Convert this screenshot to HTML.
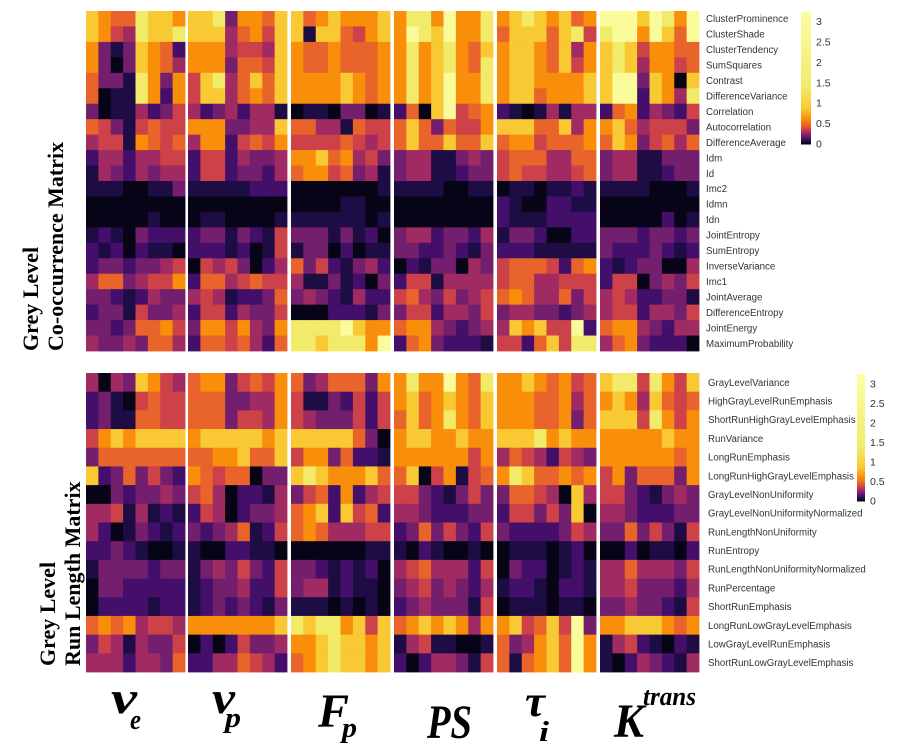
<!DOCTYPE html>
<html><head><meta charset="utf-8"><style>
html,body{margin:0;padding:0;background:#fff;}
svg{display:block;}
</style></head><body>
<svg id="chart" width="906" height="744" viewBox="0 0 906 744" xmlns="http://www.w3.org/2000/svg">
<g id="glcm"></g>
<g id="glrlm"></g>
<g id="cbars"></g>
<g font-family="'Liberation Serif',serif" font-weight="bold" font-size="22" fill="#000">
<text transform="translate(38,351) rotate(-90)">Grey Level</text>
<text transform="translate(63,351) rotate(-90)">Co-occurrence Matrix</text>
<text transform="translate(55,666) rotate(-90)">Grey Level</text>
<text transform="translate(80,666) rotate(-90)">Run Length Matrix</text>
</g>
<g font-family="'Liberation Serif',serif" font-weight="bold" font-style="italic" fill="#000">
<g><text x="111" y="713" font-size="46" textLength="26" lengthAdjust="spacingAndGlyphs">v</text><text x="130" y="729" font-size="28" textLength="11" lengthAdjust="spacingAndGlyphs">e</text></g>
<g><text x="212" y="713" font-size="46" textLength="23" lengthAdjust="spacingAndGlyphs">v</text><text x="225" y="727" font-size="28" textLength="16" lengthAdjust="spacingAndGlyphs">p</text></g>
<g><text x="318" y="727" font-size="48" textLength="31" lengthAdjust="spacingAndGlyphs">F</text><text x="342" y="737" font-size="28" textLength="15" lengthAdjust="spacingAndGlyphs">p</text></g>
<g><text x="427" y="738" font-size="48" textLength="45" lengthAdjust="spacingAndGlyphs">PS</text></g>
<g><text x="525" y="716" font-size="44" textLength="20" lengthAdjust="spacingAndGlyphs">τ</text><text x="539" y="741" font-size="28" textLength="10" lengthAdjust="spacingAndGlyphs">i</text></g>
<g><text x="614" y="737" font-size="48" textLength="30" lengthAdjust="spacingAndGlyphs">K</text><text x="643" y="705" font-size="26" textLength="53" lengthAdjust="spacingAndGlyphs">trans</text></g>
</g>
</svg>
<script>
const glcmRows=["ClusterProminence","ClusterShade","ClusterTendency","SumSquares","Contrast","DifferenceVariance","Correlation","Autocorrelation","DifferenceAverage","Idm","Id","Imc2","Idmn","Idn","JointEntropy","SumEntropy","InverseVariance","Imc1","JointAverage","DifferenceEntropy","JointEnergy","MaximumProbability"];
const glrlmRows=["GrayLevelVariance","HighGrayLevelRunEmphasis","ShortRunHighGrayLevelEmphasis","RunVariance","LongRunEmphasis","LongRunHighGrayLevelEmphasis","GrayLevelNonUniformity","GrayLevelNonUniformityNormalized","RunLengthNonUniformity","RunEntropy","RunLengthNonUniformityNormalized","RunPercentage","ShortRunEmphasis","LongRunLowGrayLevelEmphasis","LowGrayLevelRunEmphasis","ShortRunLowGrayLevelEmphasis"];
const groupNames=["ve","vp","Fp","PS","tau","Ktrans"];
const colorTicks=[0,0.5,1,1.5,2,2.5,3];
const glcmVe=[[.88,.62,.47,.47,1.4,.88,.88,.62],[.88,.62,.37,.29,1.4,.88,.88,1.4],[.62,.21,.07,.21,.88,.62,.47,.14],[.62,.21,.02,.21,.88,.62,.47,.29],[.47,.21,.21,.07,1.4,.62,.21,.62],[.47,.02,.07,.07,1.4,.62,.14,.62],[.21,.02,.07,.07,.29,.14,.21,.37],[.47,.37,.21,.07,.37,.47,.37,.37],[.29,.37,.37,.07,.62,.47,.37,.47],[.14,.29,.29,.14,.29,.29,.37,.37],[.07,.29,.21,.14,.29,.21,.29,.29],[.07,.07,.07,.02,.02,.07,.07,.21],[.02,.02,.02,.02,.02,.02,.02,.02],[.02,.02,.02,.02,.02,.07,.02,.02],[.07,.14,.07,.02,.21,.14,.14,.14],[.14,.07,.14,.02,.14,.07,.07,.02],[.14,.21,.21,.14,.21,.21,.29,.37],[.29,.47,.47,.21,.29,.37,.37,.62],[.21,.21,.14,.07,.14,.29,.21,.21],[.14,.21,.21,.07,.37,.21,.21,.29],[.21,.21,.14,.21,.47,.47,.62,.37],[.29,.21,.21,.29,.21,.47,.47,.29]];
const glcmVp=[[.88,.88,1.4,.21,.62,.62,.47,.88],[.88,.88,.88,.29,.47,.62,.37,.88],[.62,.62,.62,.29,.37,.37,.29,.88],[.62,.62,.62,.21,.47,.47,.37,.88],[.37,.88,1.4,.29,.47,.88,.47,.88],[.37,.88,.88,.29,.47,.62,.47,.88],[.29,.14,.21,.29,.14,.29,.29,.07],[.62,.62,.62,.21,.21,.29,.29,.88],[.29,.62,.62,.14,.37,.47,.37,.62],[.14,.37,.37,.14,.29,.21,.21,.29],[.14,.37,.37,.14,.21,.21,.14,.29],[.07,.07,.07,.07,.07,.14,.14,.14],[.02,.02,.02,.02,.02,.02,.02,.02],[.02,.07,.07,.02,.02,.02,.02,.07],[.14,.21,.21,.07,.21,.14,.07,.37],[.14,.14,.14,.07,.14,.02,.07,.37],[.02,.37,.29,.37,.21,.02,.14,.29],[.14,.47,.47,.29,.37,.47,.37,.37],[.29,.37,.29,.07,.14,.14,.21,.47],[.14,.37,.37,.14,.29,.21,.21,.37],[.21,.62,.62,.37,.62,.29,.21,.62],[.14,.47,.47,.37,.47,.29,.14,.47]];
const glcmFp=[[.88,.47,.62,.88,.62,.62,.62,.88],[.88,.07,.88,.88,.47,.37,.62,.88],[.62,.47,.47,.62,.47,.47,.47,.62],[.62,.47,.47,.62,.47,.47,.47,.62],[.62,.62,.62,.62,.88,.62,.47,.62],[.62,.62,.62,.62,.88,.62,.47,.62],[.02,.07,.07,.02,.21,.21,.02,.07],[.47,.47,.29,.29,.07,.47,.37,.37],[.37,.37,.37,.37,.47,.37,.29,.37],[.62,.62,.88,.47,.62,.29,.37,.21],[.47,.62,.62,.37,.47,.21,.29,.07],[.02,.02,.02,.02,.02,.02,.02,.07],[.02,.02,.02,.02,.07,.07,.02,.02],[.07,.07,.07,.07,.07,.07,.02,.07],[.21,.21,.21,.07,.21,.07,.14,.02],[.07,.21,.21,.02,.14,.02,.07,.07],[.47,.21,.37,.14,.07,.21,.29,.14],[.29,.07,.07,.21,.07,.14,.02,.21],[.21,.29,.21,.14,.07,.29,.14,.14],[.02,.02,.02,.14,.14,.14,.07,.21],[1.4,1.4,1.4,1.4,3,.88,.62,.62],[1.4,1.4,.88,1.4,1.4,1.4,.62,3]];
const glcmPS=[[.62,1.4,1.4,.62,3,.62,.62,1.4],[.62,3,1.4,.88,3,.62,.62,1.4],[.62,1.4,.62,.88,1.4,.62,.47,.88],[.62,1.4,.62,.88,1.4,.62,.47,1.4],[.62,1.4,.62,.88,3,.62,.62,1.4],[.62,1.4,.62,.88,3,.62,.62,1.4],[.14,.47,.02,.88,3,.37,.47,.62],[.47,.88,.47,.21,.47,.37,.37,.62],[.47,.88,.47,.47,.88,.47,.47,.88],[.21,.29,.29,.07,.07,.21,.29,.21],[.21,.29,.29,.07,.07,.14,.21,.21],[.07,.07,.07,.07,.02,.02,.07,.07],[.02,.02,.02,.02,.02,.02,.02,.02],[.02,.02,.02,.02,.02,.02,.02,.02],[.21,.29,.29,.14,.21,.21,.14,.29],[.21,.21,.14,.14,.21,.14,.07,.21],[.02,.14,.07,.21,.21,.02,.29,.21],[.14,.37,.37,.07,.29,.29,.29,.29],[.37,.47,.29,.21,.37,.21,.29,.37],[.21,.37,.37,.14,.29,.29,.21,.37],[.47,.62,.62,.29,.21,.14,.21,.29],[.14,.47,.62,.21,.14,.14,.14,.07]];
const glcmTau=[[.62,.88,1.4,.88,.62,.88,.47,.62],[.47,.88,.88,.88,.47,.88,1.4,.37],[.62,.88,.88,.62,.47,.88,.29,.62],[.62,.88,.88,.62,.47,.88,.37,.62],[.62,.88,.88,.62,.62,.62,.62,.88],[.62,.88,.88,.47,.62,.62,.62,.88],[.14,.07,.02,.07,.29,.07,.29,.29],[.88,.88,.88,.47,.47,.88,.29,.62],[.47,.62,.62,.37,.47,.47,.47,.62],[.37,.47,.47,.47,.29,.29,.47,.47],[.37,.47,.37,.37,.29,.29,.37,.47],[.02,.07,.07,.02,.07,.07,.14,.07],[.14,.07,.02,.02,.14,.14,.07,.07],[.14,.07,.07,.07,.14,.14,.14,.14],[.07,.21,.21,.14,.02,.02,.14,.14],[.14,.14,.14,.07,.07,.07,.07,.07],[.37,.47,.47,.47,.37,.14,.47,.62],[.37,.47,.47,.29,.29,.37,.37,.37],[.47,.62,.47,.29,.29,.47,.21,.37],[.21,.29,.29,.21,.21,.14,.21,.29],[.29,.88,.62,.88,.37,.37,3,.14],[.37,.37,.14,.47,.88,.37,1.4,1.4]];
const glcmKtrans=[[3,3,3,.88,3,1.4,.62,3],[1.4,3,3,.62,3,.88,.47,3],[.88,1.4,.88,.37,.62,.62,.47,.47],[.88,1.4,.88,.29,.62,.62,.37,.47],[.88,3,3,.21,.88,.62,.02,.88],[.88,3,3,.14,.88,.62,.29,1.4],[.14,.47,.62,.14,.29,.21,.14,.37],[.62,.88,.47,.29,.37,.37,.37,.21],[.47,.88,.62,.21,.37,.47,.29,.47],[.21,.29,.29,.07,.07,.21,.21,.21],[.21,.29,.29,.07,.07,.14,.21,.21],[.07,.07,.07,.07,.02,.02,.02,.07],[.02,.02,.02,.02,.02,.02,.02,.02],[.02,.02,.02,.02,.02,.14,.02,.07],[.21,.21,.21,.14,.21,.21,.14,.21],[.21,.14,.14,.14,.21,.14,.07,.14],[.14,.07,.14,.21,.21,.02,.02,.29],[.14,.37,.37,.02,.21,.29,.21,.37],[.29,.37,.29,.14,.14,.21,.21,.07],[.29,.37,.37,.14,.29,.29,.21,.37],[.47,.62,.62,.29,.21,.14,.29,.29],[.29,.47,.62,.21,.14,.14,.14,.02]];
const glrlmVe=[[.29,.02,.29,.21,.88,.62,.37,.29],[.14,.21,.07,.02,.37,.47,.37,.37],[.14,.21,.07,.07,.47,.47,.37,.37],[.37,.62,.88,.62,.88,.88,.88,.88],[.21,.47,.47,.47,.47,.47,.47,.47],[.88,.14,.21,.47,.21,.37,.21,.14],[.02,.02,.21,.14,.21,.21,.29,.21],[.29,.29,.37,.07,.29,.07,.14,.07],[.29,.14,.02,.07,.21,.14,.07,.14],[.14,.14,.21,.14,.07,.02,.02,.07],[.07,.21,.21,.21,.21,.14,.21,.21],[.02,.21,.21,.14,.14,.14,.14,.14],[.02,.14,.14,.14,.14,.07,.14,.14],[.47,.62,.47,.62,.29,.37,.37,.29],[.21,.37,.29,.07,.29,.21,.21,.37],[.29,.29,.29,.14,.29,.29,.21,.47]];
const glrlmVp=[[.47,.62,.62,.21,.37,.47,.37,.62],[.47,.47,.47,.21,.21,.29,.29,.62],[.47,.47,.47,.21,.37,.37,.29,.62],[.62,.88,.88,.88,.88,.88,.62,.88],[.47,.47,.62,.62,.88,.47,.47,.88],[.62,.47,.37,.47,.47,.02,.21,.21],[.37,.47,.29,.02,.14,.14,.07,.29],[.14,.37,.29,.02,.14,.21,.21,.29],[.21,.14,.21,.29,.47,.07,.14,.37],[.07,.02,.02,.14,.14,.07,.07,.02],[.07,.21,.29,.21,.37,.21,.14,.37],[.07,.14,.21,.21,.29,.14,.14,.37],[.07,.14,.21,.14,.21,.14,.07,.21],[.62,.62,.62,.62,.62,.62,.62,.88],[.02,.14,.02,.14,.37,.21,.21,.29],[.14,.14,.29,.29,.47,.37,.29,.14]];
const glrlmFp=[[.47,.21,.29,.47,.47,.47,.21,.62],[.37,.07,.07,.21,.14,.37,.14,.37],[.37,.29,.21,.21,.21,.37,.14,.37],[.88,.88,.88,.88,.88,.47,.21,.02],[.37,.62,.62,.21,.47,.14,.14,.07],[.88,1.4,.88,.62,.62,.62,.88,.47],[.21,.37,.47,.14,.62,.14,.29,.37],[.47,.62,.88,.14,.88,.37,.47,.14],[.47,.62,.47,.29,.29,.29,.37,.37],[.02,.02,.02,.02,.02,.02,.07,.07],[.21,.21,.14,.07,.14,.07,.14,.02],[.21,.29,.29,.07,.14,.07,.07,.02],[.07,.07,.07,.02,.07,.02,.07,.02],[1.4,.88,1.4,1.4,.62,.88,.37,.88],[.62,.62,.88,1.4,.88,.88,.62,.88],[.47,.62,.88,1.4,.88,.88,.62,.88]];
const glrlmPS=[[.62,1.4,.62,.62,3,.62,.47,1.4],[.62,.88,.47,.62,.88,.62,.47,.88],[.47,.88,.47,.62,1.4,.62,.47,.88],[.62,.88,.88,.62,.62,.88,.62,.62],[.62,.62,.62,.62,.62,.62,.37,.62],[.47,.88,.02,.37,.62,.07,.37,.47],[.37,.37,.21,.14,.07,.21,.37,.21],[.29,.29,.21,.14,.14,.14,.21,.21],[.14,.21,.47,.21,.37,.21,.14,.37],[.07,.02,.14,.07,.02,.02,.07,.02],[.29,.37,.47,.29,.29,.29,.14,.37],[.21,.29,.37,.21,.29,.21,.14,.29],[.14,.21,.29,.21,.21,.21,.07,.37],[.47,.62,.88,.62,.88,.62,.29,.62],[.07,.29,.37,.07,.07,.02,.02,.07],[.14,.02,.14,.29,.29,.21,.07,.37]];
const glrlmTau=[[.62,.62,.88,.62,.47,.62,.37,.47],[.62,.62,.62,.47,.47,.62,.29,.47],[.62,.62,.62,.47,.47,.62,.21,.47],[.88,.88,.88,1.4,.62,.88,.62,.62],[.29,.47,.37,.29,.14,.37,.29,.21],[.62,1.4,.88,.47,.47,.62,.47,.62],[.21,.47,.47,.37,.29,.02,.88,.29],[.14,.37,.37,.21,.37,.21,.88,.02],[.21,.14,.14,.14,.14,.21,.37,.29],[.02,.07,.07,.07,.02,.07,.14,.02],[.02,.21,.14,.14,.02,.07,.14,.07],[.07,.14,.14,.07,.02,.14,.14,.07],[.02,.07,.07,.07,.02,.07,.07,.02],[.62,.88,.37,.47,.88,.37,3,.21],[.47,.21,.29,.62,.88,.47,3,.62],[.47,.07,.47,.62,.88,.47,3,.62]];
const glrlmKtrans=[[.88,1.4,1.4,.37,1.4,.62,.37,.88],[.62,.88,.62,.29,.88,.47,.37,.47],[.88,.88,.88,.37,1.4,.62,.37,.62],[.62,.62,.62,.62,.62,.88,.62,.62],[.62,.62,.62,.62,.62,.62,.47,.62],[.37,.62,.21,.47,.47,.47,.21,.62],[.37,.37,.21,.14,.07,.21,.29,.21],[.29,.29,.21,.14,.14,.14,.21,.21],[.21,.21,.47,.21,.37,.21,.07,.37],[.02,.02,.14,.02,.07,.07,.02,.14],[.29,.29,.47,.29,.29,.29,.21,.37],[.29,.29,.37,.21,.21,.21,.14,.29],[.21,.21,.29,.21,.21,.14,.07,.37],[.62,.62,.88,.88,.88,.62,.47,.62],[.07,.29,.37,.14,.07,.02,.14,.07],[.07,.02,.14,.29,.21,.14,.07,.29]];

const NS="http://www.w3.org/2000/svg";
const stops=[[0,[0,0,4]],[.04,[13,8,41]],[.07,[30,12,69]],[.14,[67,15,106]],[.21,[115,31,110]],[.29,[160,42,98]],[.37,[204,66,72]],[.47,[233,100,42]],[.62,[249,142,10]],[.88,[248,201,50]],[1.4,[242,234,105]],[3.3,[252,255,164]]];
function color(v){
  if(v<=stops[0][0])return "rgb(0,0,4)";
  for(let i=1;i<stops.length;i++){
    if(v<=stops[i][0]){const a=stops[i-1],b=stops[i];const t=(v-a[0])/(b[0]-a[0]);
      const c=a[1].map((x,k)=>Math.round(x+(b[1][k]-x)*t));return "rgb("+c.join(",")+")";}
  }
  return "rgb(252,255,164)";
}
function mk(tag,attrs,parent){const e=document.createElementNS(NS,tag);for(const k in attrs)e.setAttribute(k,attrs[k]);parent.appendChild(e);return e;}
const groupX=[86,188,291,394,497,600];
const groupW=99;
function xScale(g,c){return groupX[g]+c*groupW/8;}
function drawHeat(parentId,groups,rows,y0,y1,labelX,prefix){
  const p=document.getElementById(parentId);
  const rh=(y1-y0)/rows.length;
  const yScale=r=>y0+r*rh;
  groups.forEach((data,g)=>{
    data.forEach((row,r)=>{
      row.forEach((v,c)=>{
        const x=xScale(g,c);
        const rect=mk("rect",{x:x.toFixed(2),y:yScale(r).toFixed(2),width:(groupW/8+0.4).toFixed(2),height:(rh+0.4).toFixed(2),fill:color(v)},p);
        
        
      });
    });
  });
  rows.forEach((name,r)=>{
    const t=mk("text",{x:labelX,y:(yScale(r)+rh/2+3.5).toFixed(2),"font-family":"'Liberation Sans',sans-serif","font-size":"9.7",fill:"#333"},p);
    t.textContent=name;
    
    
  });
}
drawHeat("glcm",[glcmVe,glcmVp,glcmFp,glcmPS,glcmTau,glcmKtrans],glcmRows,11,351,706,"glcm");
drawHeat("glrlm",[glrlmVe,glrlmVp,glrlmFp,glrlmPS,glrlmTau,glrlmKtrans],glrlmRows,373,672,708,"glrlm");
function drawBar(x,yZero,pxPerUnit,top,w){
  const p=document.getElementById("cbars");
  const n=120,vmax=(yZero-top)/pxPerUnit;
  for(let i=0;i<n;i++){
    const v0=vmax*i/n,v1=vmax*(i+1)/n;
    const r=mk("rect",{x:x,y:(yZero-v1*pxPerUnit).toFixed(2),width:w,height:((v1-v0)*pxPerUnit+0.5).toFixed(2),fill:color((v0+v1)/2)},p);
    
    
  }
  colorTicks.forEach(t=>{
    const y=yZero-t*pxPerUnit;
    const tx=mk("text",{x:x+w+5,y:(y+3.5).toFixed(2),"font-family":"'Liberation Sans',sans-serif","font-size":"10.5",fill:"#333"},p);
    tx.textContent=String(t);
    
    
  });
}
drawBar(801,144,40.8,12,10);
drawBar(857,501,39,374,8);
</script>
</body></html>
